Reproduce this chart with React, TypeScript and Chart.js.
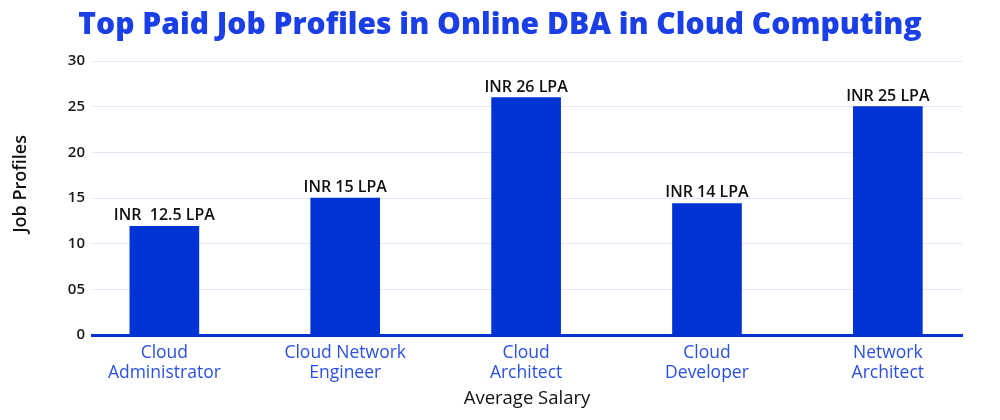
import React, { useEffect, useRef } from "react";
import { Chart, registerables } from "chart.js";

Chart.register(...registerables);

const titleText = "Top Paid Job Profiles in Online DBA in Cloud Computing";
const categories: string[][] = [
  ["Cloud", "Administrator"],
  ["Cloud Network", "Engineer"],
  ["Cloud", "Architect"],
  ["Cloud", "Developer"],
  ["Network", "Architect"],
];
const salaries = [11.9, 15, 26, 14.4, 25];
const valueLabels = ["INR  12.5 LPA", "INR 15 LPA", "INR 26 LPA", "INR 14 LPA", "INR 25 LPA"];
const yTickValues = [0, 5, 10, 15, 20, 25, 30];
const yTickLabels = ["0", "05", "10", "15", "20", "25", "30"];
const xTitle = "Average Salary";
const yTitle = "      Job Profiles";

const FONT = "'Open Sans', 'DejaVu Sans', sans-serif";
const BAR = "#0033d3";

const valueLabelPlugin = {
  id: "valueLabels",
  afterDatasetsDraw(chart: any) {
    const ctx = chart.ctx;
    const meta = chart.getDatasetMeta(0);
    ctx.save();
    ctx.font = `600 16px ${FONT}`;
    ctx.fillStyle = "#111111";
    ctx.textAlign = "center";
    ctx.textBaseline = "alphabetic";
    meta.data.forEach((bar: any, i: number) => {
      ctx.fillText(valueLabels[i], bar.x, bar.y - 6);
    });
    ctx.restore();
  },
};

export default function App() {
  const ref = useRef<HTMLCanvasElement | null>(null);
  useEffect(() => {
    document.body.style.margin = "0";
    if (!ref.current) return;
    const chart = new Chart(ref.current, {
      type: "bar",
      data: {
        datasets: [
          {
            data: salaries.map((v, i) => ({ x: i, y: v })),
            backgroundColor: BAR,
            barThickness: 69,
            borderWidth: 0,
          },
        ],
      },
      options: {
        responsive: false,
        animation: false,
        layout: { padding: 0 },
        plugins: {
          legend: { display: false },
          tooltip: { enabled: false },
          title: {
            display: true,
            text: titleText,
            color: "#1a3fe6",
            font: { family: FONT, size: 30, weight: "800" },
            padding: { top: 7, bottom: 18 },
          },
        },
        scales: {
          x: {
            type: "linear",
            offset: false,
            min: -0.4,
            max: 4.41,
            afterBuildTicks(scale: any) {
              scale.ticks = categories.map((_, i) => ({ value: i }));
            },
            afterFit(scale: any) {
              scale.height = 85;
            },
            grid: { display: false, drawTicks: false, offset: false },
            border: { display: true, color: BAR, width: 3 },
            ticks: {
              autoSkip: false,
              maxRotation: 0,
              padding: 8,
              color: "#2a4fe4",
              font: { family: FONT, size: 17.5, lineHeight: 1.15 },
              callback: (v: any) => categories[v as number],
            },
            title: {
              display: true,
              text: xTitle,
              color: "#111111",
              font: { family: FONT, size: 18.5, weight: "500" },
              padding: { top: 0, bottom: 10 },
            },
          },
          y: {
            min: 0,
            max: 30,
            afterBuildTicks(scale: any) {
              scale.ticks = yTickValues.map((v) => ({ value: v }));
            },
            afterFit(scale: any) {
              scale.width = 92;
            },
            grid: { color: "#e3e7f7", lineWidth: 1, drawTicks: false },
            border: { display: false },
            ticks: {
              padding: 7,
              color: "#1a1a1a",
              font: { family: FONT, size: 15, weight: "600" },
              callback: (v: any) => yTickLabels[yTickValues.indexOf(v as number)],
            },
            title: {
              display: true,
              text: yTitle,
              color: "#111111",
              font: { family: FONT, size: 18, weight: "600" },
              padding: { top: 10, bottom: 0 },
            },
          },
          yRight: {
            position: "right",
            min: 0,
            max: 30,
            afterFit(scale: any) {
              scale.width = 38;
            },
            grid: { display: false, drawTicks: false },
            border: { display: false },
            ticks: { display: false },
          },
        },
      },
      plugins: [valueLabelPlugin],
    } as any);
    return () => chart.destroy();
  }, []);
  return (
    <div style={{ width: 1000, height: 420 }}>
      <canvas ref={ref} width={1000} height={420} style={{ display: "block" }} />
    </div>
  );
}
